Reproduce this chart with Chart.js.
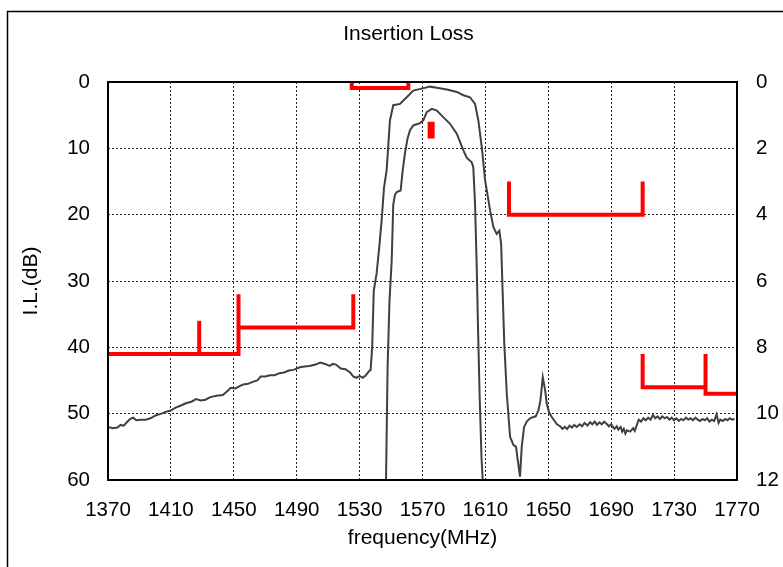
<!DOCTYPE html>
<html>
<head>
<meta charset="utf-8">
<script src="https://cdn.jsdelivr.net/npm/chart.js@4.4.0/dist/chart.umd.min.js"></script>
<style>
  html, body { margin: 0; padding: 0; background: #fff; overflow: hidden; }
  #wrap { width: 817px; height: 567px; }
</style>
</head>
<body>
<div id="wrap"><canvas id="ilChart"></canvas></div>
<script>
// tick labels
const xTicks = [1370, 1410, 1450, 1490, 1530, 1570, 1610, 1650, 1690, 1730, 1770];

// wide-band insertion loss (left axis, dB)
const wideFreq = [1370, 1373, 1376, 1378, 1380, 1382, 1384, 1386, 1388, 1391, 1394, 1397, 1400, 1404, 1407, 1410,
  1413, 1416, 1420, 1423, 1426, 1429, 1432, 1435, 1439, 1443, 1446, 1448, 1451, 1454, 1456, 1459, 1462, 1465,
  1467, 1470, 1473, 1476, 1479, 1482, 1485, 1488, 1492, 1495, 1498, 1502, 1505, 1508, 1511, 1513, 1515, 1518,
  1521, 1524, 1526, 1528, 1530, 1532, 1534, 1536, 1537, 1538, 1539, 1540.8, 1542.5, 1544, 1545.5, 1547.2,
  1549.3, 1551.4, 1555.7, 1557.8, 1560, 1564.1, 1569.5, 1574.8, 1579.1, 1585.5, 1591.8, 1596, 1600.2, 1603.4,
  1605.5, 1607.7, 1609.8, 1613, 1615.1, 1617.2, 1618.9, 1620, 1621, 1622, 1623.6, 1625.7, 1627.8, 1629.5,
  1630.3, 1632, 1633.1, 1634.6, 1636.3, 1638.4, 1640.5, 1642, 1643.7, 1645, 1646.5, 1648, 1649, 1650.5, 1652.2,
  1654, 1655.5, 1657.5, 1659, 1660.5, 1662, 1663.5, 1665, 1666.5, 1668, 1670, 1671.5, 1673, 1675, 1676.5, 1678,
  1679.5, 1681, 1682.5, 1684, 1685.5, 1687, 1688.5, 1690, 1692, 1693.5, 1694.5, 1696, 1697, 1698, 1699, 1700,
  1702, 1704, 1705, 1706, 1707.5, 1709, 1710.5, 1712, 1713.5, 1715, 1716.5, 1718, 1719.5, 1721, 1722.5, 1724,
  1725.5, 1727, 1728.5, 1730, 1731.5, 1733, 1734.5, 1736, 1737.5, 1739, 1740.5, 1742, 1743.5, 1745, 1746.5,
  1748, 1749.5, 1751, 1752.5, 1754, 1755.5, 1757, 1758.3, 1759.4, 1761, 1762.5, 1764, 1765.5, 1767, 1768.5, 1770];
const wideLoss = [52.0, 52.2, 52.1, 51.7, 51.8, 51.3, 50.8, 50.6, 51.0, 50.9, 50.9, 50.7, 50.3, 50.0, 49.7, 49.5,
  49.1, 48.8, 48.4, 48.2, 47.8, 48.0, 47.9, 47.5, 47.3, 47.2, 46.6, 46.1, 46.2, 45.8, 45.6, 45.5, 45.2, 45.0,
  44.4, 44.4, 44.2, 44.2, 43.9, 43.8, 43.5, 43.4, 43.0, 42.9, 42.8, 42.6, 42.3, 42.5, 42.8, 42.5, 42.6, 43.2,
  43.3, 43.8, 44.4, 44.6, 44.3, 44.6, 44.2, 43.6, 43.4, 40.0, 31.5, 28.9, 24.9, 20.9, 16.0, 13.3,
  5.8, 3.5, 3.3, 2.8, 2.3, 1.3, 1.0, 0.7, 0.87, 1.13, 1.5, 2.0, 2.3, 3.3,
  5.8, 9.8, 14.8, 19.4, 21.9, 22.9, 22.4, 24.4, 31.9, 39.4, 47.0, 53.5, 54.7, 55.0,
  56.5, 59.5, 55.0, 52.0, 51.2, 50.7, 50.5, 50.4, 49.5, 48.0, 44.5, 46.5, 48.5, 49.8, 50.5,
  51.1, 51.6, 51.9, 52.3, 52.0, 52.3, 51.8, 52.1, 51.7, 52.0, 51.6, 51.9, 51.4, 51.8, 51.3, 51.6,
  51.2, 51.7, 51.3, 51.6, 51.2, 51.5, 51.9, 51.6, 52.3, 51.9, 52.4, 52.0, 52.7, 52.3, 53.0, 52.5,
  52.7, 52.2, 52.6, 51.9, 50.9, 51.2, 50.7, 51.0, 50.6, 50.9, 50.2, 50.7, 50.4, 50.8, 50.4,
  50.7, 50.5, 50.9, 50.6, 51.0, 50.7, 51.1, 50.8, 51.0, 50.6, 50.9, 50.7, 51.0, 50.6, 50.9,
  51.1, 50.8, 51.0, 50.7, 51.2, 50.9, 51.1, 50.1, 51.4, 50.9, 51.1, 50.8, 51.0, 50.7, 50.9, 50.8];

// passband detail (right axis, dB)
const passFreq = [1546.8, 1547.8, 1549, 1550.4, 1551.4, 1552.5, 1553.6, 1556.1, 1557.4, 1558.8, 1560.5, 1562,
  1564.1, 1568.4, 1570.5, 1572.7, 1575.9, 1579.1, 1583.2, 1587.5, 1591.8, 1596, 1598.1, 1601.3, 1602.3, 1603.4,
  1604.5, 1605.3, 1606.3, 1607.5, 1608.3];
const passLoss = [12, 8.6, 6.6, 5.4, 3.7, 3.4, 3.32, 3.27, 2.67, 2.16, 1.7, 1.46,
  1.31, 1.24, 1.16, 0.91, 0.81, 0.86, 1.06, 1.26, 1.56, 2.06, 2.28, 2.42, 2.57, 3.66,
  5.6, 7.4, 9.4, 11.3, 12];

// spec masks (left axis dB unless noted)
const maskAX = [1370, 1453, 1453], maskAY = [41, 41, 32];
const maskBX = [1428, 1428], maskBY = [41, 36];
const maskCX = [1453, 1526, 1526], maskCY = [37, 37, 32];
const maskDX = [1525, 1525, 1561, 1561], maskDY = [0, 0.9, 0.9, 0];
const maskEX = [1625, 1625, 1710, 1710], maskEY = [15, 20, 20, 15];
const maskFX = [1710, 1710, 1750], maskFY = [41, 46, 46];
const maskGX = [1750, 1750, 1770], maskGY = [41, 47, 47];
const rippleX = [1575.5, 1575.5], rippleY = [1.2, 1.7]; // right axis

function pts(xs, ys) {
    return xs.map((x, i) => ({ x: x, y: ys[i] }));
}

function redMask(xs, ys, axis, width) {
    return {
        data: pts(xs, ys),
        yAxisID: axis || 'y',
        borderColor: '#ff0000',
        borderWidth: width || 4,
        borderJoinStyle: 'miter',
        borderCapStyle: 'butt',
        pointRadius: 0,
        tension: 0
    };
}

// outer frame + plot border
const frame = {
    id: 'frame',
    afterDraw(chart) {
        const { ctx, chartArea: a } = chart;
        ctx.save();
        ctx.strokeStyle = '#000';
        ctx.lineWidth = 1.5;
        ctx.strokeRect(7.5, 11.5, 900, 700);
        ctx.lineWidth = 2;
        ctx.strokeRect(a.left, a.top, a.right - a.left, a.bottom - a.top);
        ctx.restore();
    }
};

const family = '"Liberation Sans", Arial, sans-serif';
const tickFont = { family: family, size: 20.5 };
const titleFont = { family: family, size: 21 };
const grid = { color: '#222', lineWidth: 1, drawTicks: false };
const dash = { display: true, dash: [2, 2], width: 0 };
const plain = v => String(v);

new Chart(document.getElementById('ilChart'), {
    type: 'line',
    data: {
        datasets: [
            redMask(maskAX, maskAY), redMask(maskBX, maskBY), redMask(maskCX, maskCY),
            redMask(maskDX, maskDY), redMask(maskEX, maskEY), redMask(maskFX, maskFY),
            redMask(maskGX, maskGY), redMask(rippleX, rippleY, 'y1', 7),
            {
                data: pts(wideFreq, wideLoss),
                yAxisID: 'y',
                borderColor: '#404040',
                borderWidth: 2,
                pointRadius: 0,
                tension: 0
            },
            {
                data: pts(passFreq, passLoss),
                yAxisID: 'y1',
                borderColor: '#404040',
                borderWidth: 2,
                pointRadius: 0,
                tension: 0
            }
        ]
    },
    options: {
        responsive: true,
        maintainAspectRatio: false,
        animation: false,
        layout: { padding: 0 },
        plugins: {
            legend: { display: false },
            tooltip: { enabled: false },
            title: {
                display: true,
                text: 'Insertion Loss',
                color: '#000',
                font: { family: family, size: 21, weight: 'normal' },
                padding: { top: 22, bottom: 34.8 }
            }
        },
        scales: {
            x: {
                type: 'linear',
                min: 1370,
                max: 1770,
                afterBuildTicks: s => { s.ticks = xTicks.map(v => ({ value: v })); },
                afterFit: s => { s.height = 87; },
                ticks: { color: '#000', font: tickFont, padding: 18, maxRotation: 0, autoSkip: false, callback: plain },
                grid: grid,
                border: dash,
                title: { display: true, text: 'frequency(MHz)', color: '#000', font: titleFont, padding: { bottom: 16 } }
            },
            y: {
                position: 'left',
                reverse: true,
                min: 0,
                max: 60,
                ticks: { stepSize: 10, color: '#000', font: tickFont, padding: 18, callback: plain },
                afterFit: s => { s.width = 108; },
                grid: grid,
                border: dash,
                title: { display: true, text: 'I.L.(dB)', color: '#000', font: titleFont, padding: { top: 19 } }
            },
            y1: {
                position: 'right',
                reverse: true,
                min: 0,
                max: 12,
                ticks: { stepSize: 2, color: '#000', font: tickFont, padding: 19, callback: plain },
                afterFit: s => { s.width = 80; },
                grid: { display: false, drawTicks: false },
                border: { display: false }
            }
        }
    },
    plugins: [frame]
});
</script>
</body>
</html>
